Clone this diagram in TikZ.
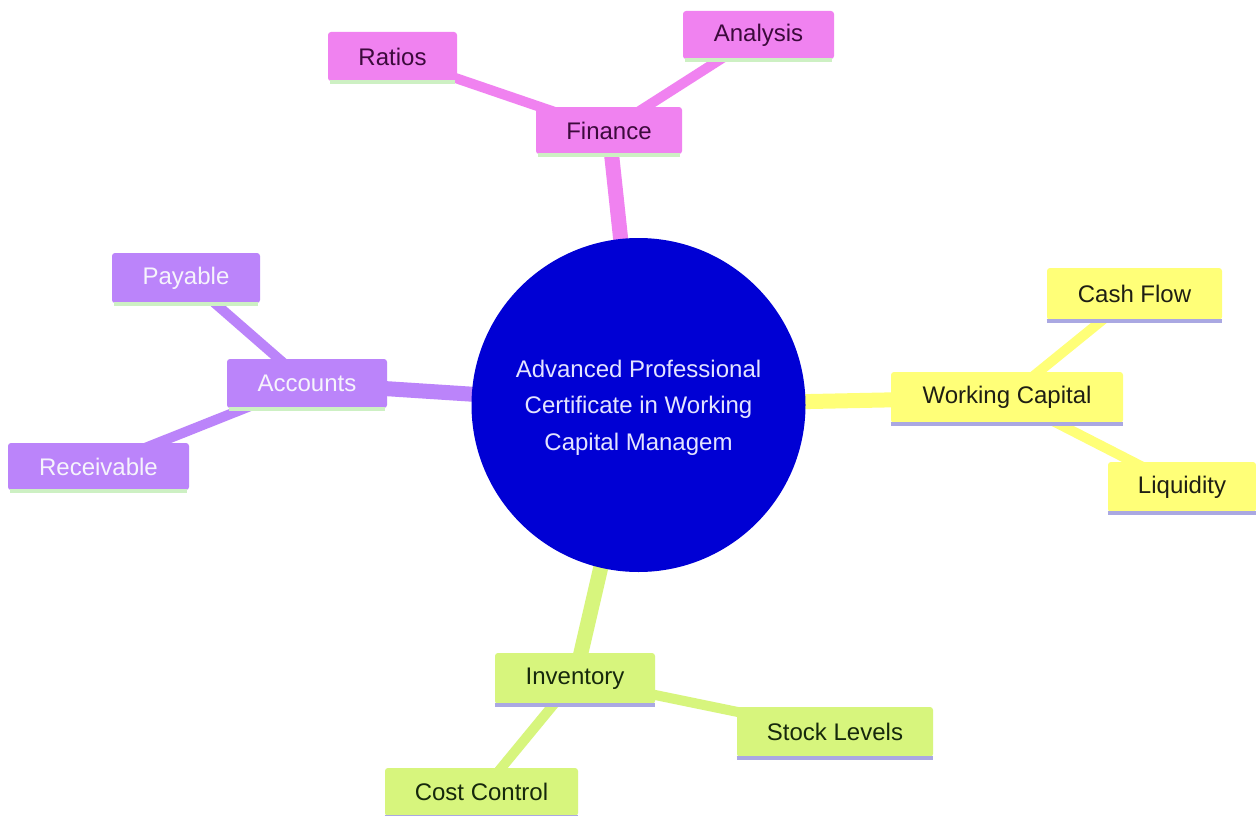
\documentclass[tikz,border=0pt]{standalone}
\usepackage{fontspec}
\setmainfont{Liberation Sans}
\pgfdeclarelayer{bg}
\pgfsetlayers{bg,main}
\definecolor{pinkC}{RGB}{240,130,240}
\definecolor{purpC}{RGB}{187,132,250}
\definecolor{yellC}{RGB}{255,255,120}
\definecolor{greenC}{RGB}{215,245,125}
\definecolor{blueC}{RGB}{0,0,212}
\definecolor{pinkT}{RGB}{60,10,60}
\definecolor{purpT}{RGB}{246,244,252}
\definecolor{yellT}{RGB}{30,30,20}
\definecolor{greenT}{RGB}{22,40,12}
\definecolor{mintL}{RGB}{205,240,195}
\definecolor{lavL}{RGB}{170,168,226}
\tikzset{
  box/.style={rectangle, rounded corners=3pt, inner sep=0pt, align=center,
    font=\fontsize{24}{28}\selectfont},
  pinkbox/.style={box, fill=pinkC, text=pinkT},
  purpbox/.style={box, fill=purpC, text=purpT},
  yellbox/.style={box, fill=yellC, text=yellT},
  greenbox/.style={box, fill=greenC, text=greenT},
  trunk/.style={line width=15pt},
  twig/.style={line width=10pt},
  accent/.style={line width=3.5pt},
}
\begin{document}
\begin{tikzpicture}[x=1pt,y=-1pt]
\useasboundingbox (0,0) rectangle (1256,816);
% center
\node[circle, fill=blueC, minimum size=334pt, inner sep=0pt, align=center,
  text={rgb,255:red,228;green,228;blue,255}, font=\fontsize{24}{36.5}\selectfont]
  (c) at (638.5,405) {};
\node[align=center, inner sep=0pt, text={rgb,255:red,228;green,228;blue,255},
  font=\fontsize{24}{36.5}\selectfont] (ctext) at (638.5,407.5)
  {Advanced Professional\\Certificate in Working\\Capital Managem};
% Finance branch
\node[pinkbox, minimum width=146pt, minimum height=47pt] (fin) at (609,130.5) {Finance};
\node[pinkbox, minimum width=129pt, minimum height=49pt] (rat) at (392.5,56.5) {Ratios};
\node[pinkbox, minimum width=151pt, minimum height=48pt] (ana) at (758.5,35) {Analysis};
% Accounts branch
\node[purpbox, minimum width=160pt, minimum height=49pt] (acc) at (307,383.5) {Accounts};
\node[purpbox, minimum width=148pt, minimum height=50pt] (pay) at (186,278) {Payable};
\node[purpbox, minimum width=181pt, minimum height=47pt] (rec) at (98.5,466.5) {Receivable};
% Working capital branch
\node[yellbox, minimum width=232pt, minimum height=51pt] (wc) at (1007,397.5) {Working Capital};
\node[yellbox, minimum width=175pt, minimum height=52pt] (cf) at (1134.5,294) {Cash Flow};
\node[yellbox, minimum width=148pt, minimum height=50pt] (liq) at (1182,487) {Liquidity};
% Inventory branch
\node[greenbox, minimum width=160pt, minimum height=51pt] (inv) at (575,678.5) {Inventory};
\node[greenbox, minimum width=196pt, minimum height=50pt] (stk) at (835,732) {Stock Levels};
\node[greenbox, minimum width=193pt, minimum height=48pt] (cst) at (481.5,792) {Cost Control};
% bottom accents
\foreach \n in {fin,rat,ana,acc,pay,rec}
  \draw[accent, mintL] ([xshift=2pt,yshift=-1pt]\n.south west) -- ([xshift=-2pt,yshift=-1pt]\n.south east);
\foreach \n in {wc,cf,liq,inv,stk,cst}
  \draw[accent, lavL] ([yshift=-1pt]\n.south west) -- ([yshift=-1pt]\n.south east);
% connectors
\begin{pgfonlayer}{bg}
\fill[white] (0,0) rectangle (1256,816);
\draw[trunk, pinkC] (fin.center) -- (c.center);
\draw[twig, pinkC] (rat.center) -- (fin.center);
\draw[twig, pinkC] (ana.center) -- (fin.center);
\draw[trunk, purpC] (acc.center) -- (c.center);
\draw[twig, purpC] (pay.center) -- (acc.center);
\draw[twig, purpC] (rec.center) -- (acc.center);
\draw[trunk, yellC] (wc.center) -- (c.center);
\draw[twig, yellC] (cf.center) -- (wc.center);
\draw[twig, yellC] (liq.center) -- (wc.center);
\draw[trunk, greenC] (inv.center) -- (c.center);
\draw[twig, greenC] (stk.center) -- (inv.center);
\draw[twig, greenC] (cst.center) -- (inv.center);
\end{pgfonlayer}
\end{tikzpicture}
\end{document}
